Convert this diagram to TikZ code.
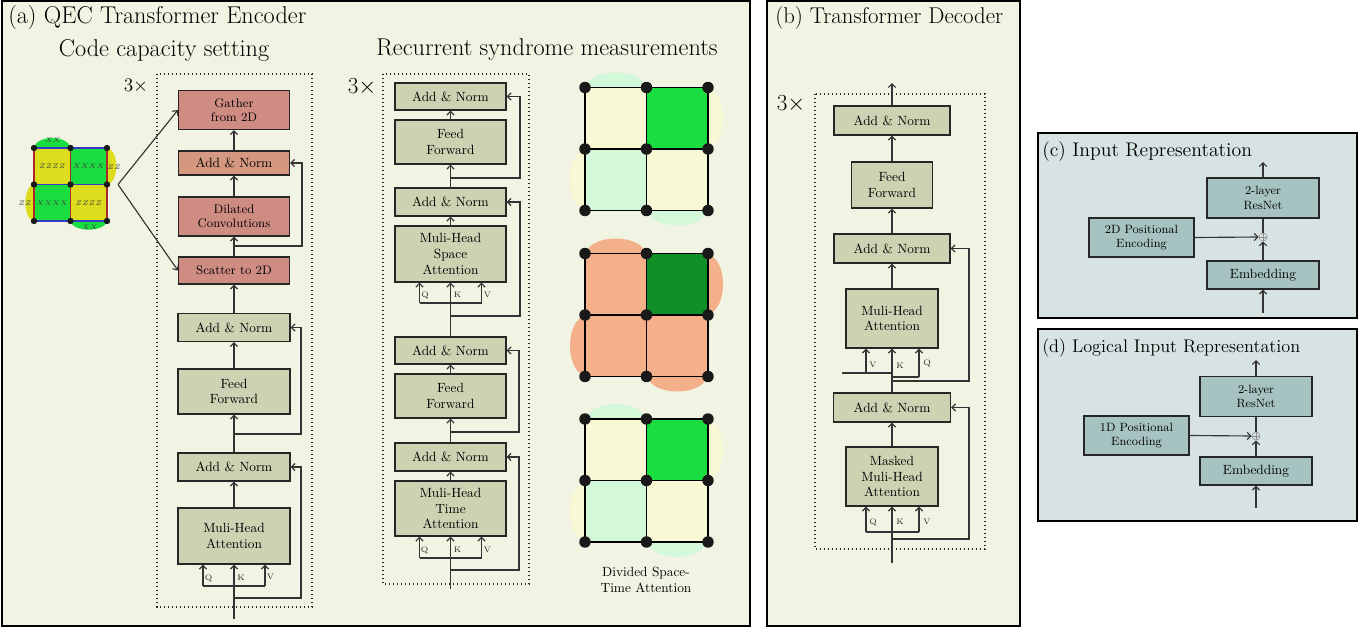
\documentclass[tikz,border=0pt]{standalone}
\usetikzlibrary{arrows.meta,calc}
\definecolor{bgA}{RGB}{241,244,227}
\definecolor{boxG}{RGB}{206,209,178}
\definecolor{boxR}{RGB}{207,140,131}
\definecolor{boxRn}{RGB}{212,152,128}
\definecolor{bgC}{RGB}{214,227,226}
\definecolor{boxT}{RGB}{166,195,193}
\definecolor{latY}{RGB}{221,221,30}
\definecolor{latG}{RGB}{26,222,64}
\definecolor{cellY}{RGB}{248,248,212}
\definecolor{cellM}{RGB}{212,248,218}
\definecolor{cellO}{RGB}{243,176,138}
\definecolor{cellDG}{RGB}{16,142,40}
\definecolor{edgeB}{RGB}{55,55,200}
\definecolor{edgeR}{RGB}{170,40,40}

% one 2x2 plaquette grid: #1 top y, #2-#5 cell fills (TL,TR,BL,BR),
% #6 blob colour above/below, #7 blob colour left/right
\newcommand\plaqgrid[7]{%
  \begin{scope}[shift={(585,#1)}]
    \fill[#6] (30.75,0) ellipse [x radius=21.75pt, y radius=11.25pt];
    \fill[#7] (123,30.75) ellipse [x radius=11.25pt, y radius=21.75pt];
    \fill[#7] (0,92.25) ellipse [x radius=11.25pt, y radius=21.75pt];
    \fill[#6] (92.25,123) ellipse [x radius=21.75pt, y radius=11.25pt];
    \fill[#2] (0,0) rectangle (61.5,61.5);
    \fill[#3] (61.5,0) rectangle (123,61.5);
    \fill[#4] (0,61.5) rectangle (61.5,123);
    \fill[#5] (61.5,61.5) rectangle (123,123);
    \foreach \k in {0,61.5,123}{
      \draw[line width=1.2pt] (0,\k) -- (123,\k);
      \draw[line width=1.2pt] (\k,0) -- (\k,123);}
    \foreach \i in {0,61.5,123}{\foreach \j in {0,61.5,123}{
      \fill[black!90] (\i,\j) circle [radius=4.3pt];}}
  \end{scope}}

\begin{document}
\begin{tikzpicture}[x=0.75pt,y=-0.75pt,
  >={Straight Barb[length=2.8pt,width=5.4pt]},
  wh/.style 2 args={minimum width=#1*0.75pt, minimum height=#2*0.75pt},
  blk/.style={draw=black!85, line width=0.85pt, align=center, inner sep=1pt},
  gbox/.style={blk, fill=boxG, font=\fontsize{10}{11.8}\selectfont},
  rbox/.style={blk, fill=boxR, font=\fontsize{9.3}{10.9}\selectfont},
  rnorm/.style={blk, fill=boxRn, font=\fontsize{10}{11.8}\selectfont},
  tbox/.style={blk, fill=boxT, font=\fontsize{9}{10.6}\selectfont},
  ln/.style={draw=black!80, line width=0.85pt},
  arr/.style={ln, ->},
  lab/.style={font=\fontsize{6}{7}\selectfont, inner sep=0pt, text=black!85},
  ttl/.style={font=\fontsize{18.2}{21}\selectfont, inner sep=0pt},
  rep/.style={inner sep=0pt},
  dots/.style={draw=black!85, line width=1pt, dash pattern=on 1pt off 2pt},
  pan/.style={draw=black, line width=0.8pt},
  plus/.style={draw=black!45, circle, inner sep=0pt, minimum size=6pt, line width=0.4pt,
    path picture={\draw[black!45, line width=0.4pt]
      (path picture bounding box.north) -- (path picture bounding box.south)
      (path picture bounding box.west) -- (path picture bounding box.east);}}
]
\useasboundingbox (0,0) rectangle (1372,627);

% ---------- panels ----------
\draw[pan, fill=bgA] (2,1) rectangle (750,626);
\draw[pan, fill=bgA] (767,1) rectangle (1020,626);
\draw[pan, fill=bgC] (1038,133) rectangle (1357,318);
\draw[pan, fill=bgC] (1038,329) rectangle (1357,521);

\node[ttl, anchor=base west] (ta) at (8,24) {(a) QEC Transformer Encoder};
\node[ttl, anchor=base west, font=\fontsize{17.1}{20}\selectfont] (tb) at (775,24) {(b) Transformer Decoder};
\node[rep, anchor=base west, font=\fontsize{14.8}{17}\selectfont] (tc) at (1042,157) {(c) Input Representation};
\node[rep, anchor=base west, font=\fontsize{13.7}{16}\selectfont] (td) at (1042,353) {(d) Logical Input Representation};
\node[ttl] (tcc) at (164,50) {Code capacity setting};
\node[ttl] (trs) at (547,50) {Recurrent syndrome measurements};

% ---------- surface-code lattice ----------
\fill[latG] (52.25,148) ellipse [x radius=13.5pt, y radius=7.5pt];
\fill[latY] (107,166.25) ellipse [x radius=7pt, y radius=13.5pt];
\fill[latY] (34,202.75) ellipse [x radius=6.5pt, y radius=13.5pt];
\fill[latG] (88.75,221) ellipse [x radius=13.5pt, y radius=6.5pt];
\fill[latY] (34,148) rectangle (70.5,184.5);
\fill[latG] (70.5,148) rectangle (107,184.5);
\fill[latG] (34,184.5) rectangle (70.5,221);
\fill[latY] (70.5,184.5) rectangle (107,221);
\foreach \yy in {148,184.5,221} \draw[edgeB, line width=1.1pt] (34,\yy) -- (107,\yy);
\foreach \xx in {34,70.5,107} \draw[edgeR, line width=1.1pt] (\xx,148) -- (\xx,221);
\foreach \xx in {34,70.5,107}{\foreach \yy in {148,184.5,221}{
  \fill[black!90] (\xx,\yy) circle [radius=2.4pt];}}
\begin{scope}[every node/.style={font=\fontsize{5.5}{6}\selectfont, inner sep=0pt, text=black!75}]
  \node (z1) at (52.25,166.25) {$ZZZZ$};
  \node (x1) at (88.75,166.25) {$XXXX$};
  \node (x2) at (52.25,202.75) {$XXXX$};
  \node (z2) at (88.75,202.75) {$ZZZZ$};
  \node (bx1) at (53,140) {$XX$};
  \node (bz1) at (114,167) {$ZZ$};
  \node (bz2) at (25,203) {$ZZ$};
  \node (bx2) at (90,227) {$XX$};
\end{scope}
\coordinate (lat) at (118,184.5);

% ---------- code capacity encoder ----------
\node[rep, font=\fontsize{15}{17}\selectfont] (n3a) at (136,86) {$3\times$};
\draw[dots] (157,74) rectangle (312,607);
\node[rbox, wh={111}{39}] (gat) at (234,110) {Gather\\from 2D};
\node[rnorm, wh={111}{24}] (ran) at (234,163) {Add \& Norm};
\node[rbox, wh={111}{39}] (dil) at (234,216.5) {Dilated\\Convolutions};
\node[rbox, wh={111}{27}] (sca) at (234,270.5) {Scatter to 2D};
\node[gbox, wh={112}{28}] (an2) at (234,327.5) {Add \& Norm};
\node[gbox, wh={112}{45}] (ff) at (234,391.5) {Feed\\Forward};
\node[gbox, wh={112}{28}] (an1) at (234,467) {Add \& Norm};
\node[gbox, wh={112}{56}] (mha) at (234,536) {Muli-Head\\Attention};

\draw[arr] (lat) -- (gat.west);
\draw[arr] (lat) -- (sca.west);

\draw[arr] (mha.north) -- (an1.south);
\draw[arr] (an1.north) -- (ff.south);
\draw[arr] (ff.north) -- (an2.south);
\draw[arr] (an2.north) -- (sca.south);
\draw[arr] (sca.north) -- (dil.south);
\draw[arr] (dil.north) -- (ran.south);
\draw[arr] (ran.north) -- (gat.south);
\draw[arr] (234,246) -| (302,163) -- (ran.east);
\draw[arr] (234,434) -| (301,327.5) -- (an2.east);
\draw[arr] (234,598) -| (301,467) -- (an1.east);

\coordinate (ein) at (234,619);
\draw[ln] (ein) -- (234,586);
\draw[ln] (203,586) -- (265,586);
\draw[arr] (203,586) -- ($(mha.south)+(-31,0)$);
\draw[arr] (234,586) -- (mha.south);
\draw[arr] (265,586) -- ($(mha.south)+(31,0)$);
\node[lab] (eq) at (208.5,578) {Q};
\node[lab] (ek) at (241,578) {K};
\node[lab] (ev) at (270.5,577) {V};

% ---------- recurrent encoder ----------
\node[rep, font=\fontsize{17}{19}\selectfont] (n3b) at (362,87) {$3\times$};
\draw[dots] (383,74) rectangle (529,584);
\node[gbox, wh={111}{27}] (sa2) at (450.5,96.5) {Add \& Norm};
\node[gbox, wh={111}{44}] (sff) at (450.5,142) {Feed\\Forward};
\node[gbox, wh={111}{28}] (sa1) at (450.5,202) {Add \& Norm};
\node[gbox, wh={111}{56}] (sat) at (450.5,254) {Muli-Head\\Space\\Attention};
\node[gbox, wh={111}{27}] (ta2) at (450.5,350.5) {Add \& Norm};
\node[gbox, wh={111}{44}] (tff) at (450.5,396) {Feed\\Forward};
\node[gbox, wh={111}{28}] (ta1) at (450.5,457) {Add \& Norm};
\node[gbox, wh={111}{55}] (tat) at (450.5,508.5) {Muli-Head\\Time\\Attention};

\draw[arr] (sat.north) -- (sa1.south);
\draw[arr] (sa1.north) -- (sff.south);
\draw[arr] (sff.north) -- (sa2.south);
\draw[arr] (450.5,178) -| (520,96.5) -- (sa2.east);
\draw[arr] (450.5,316) -| (520,202) -- (sa1.east);
\draw[ln] (ta2.north) -- (450.5,303);
\draw[ln] (419.5,303) -- (481.5,303);
\draw[arr] (419.5,303) -- ($(sat.south)+(-31,0)$);
\draw[arr] (450.5,303) -- (sat.south);
\draw[arr] (481.5,303) -- ($(sat.south)+(31,0)$);
\node[lab] (sq) at (425,295) {Q};
\node[lab] (sk) at (457.5,295) {K};
\node[lab] (sv) at (487.5,295) {V};

\draw[arr] (tat.north) -- (ta1.south);
\draw[arr] (ta1.north) -- (tff.south);
\draw[arr] (tff.north) -- (ta2.south);
\draw[arr] (450.5,432) -| (519,350.5) -- (ta2.east);
\draw[arr] (450.5,570) -| (519,457) -- (ta1.east);
\coordinate (rin) at (450.5,589);
\draw[ln] (rin) -- (450.5,558);
\draw[ln] (419.5,558) -- (481.5,558);
\draw[arr] (419.5,558) -- ($(tat.south)+(-31,0)$);
\draw[arr] (450.5,558) -- (tat.south);
\draw[arr] (481.5,558) -- ($(tat.south)+(31,0)$);
\node[lab] (tq) at (424.5,550) {Q};
\node[lab] (tk) at (457.5,550) {K};
\node[lab] (tv) at (487.5,550) {V};

% ---------- divided space-time attention ----------
\plaqgrid{87.5}{cellY}{latG}{cellM}{cellY}{cellM}{cellY}
\plaqgrid{253.5}{cellO}{cellDG}{cellO}{cellO}{cellO}{cellO}
\plaqgrid{419}{cellY}{latG}{cellM}{cellY}{cellM}{cellY}
\node[align=center, font=\fontsize{10}{11.5}\selectfont] (dsta) at (646,580) {Divided Space-\\Time Attention};

% ---------- decoder ----------
\node[rep, font=\fontsize{16}{18}\selectfont] (n3c) at (791,104) {$3\times$};
\draw[dots] (815,94) rectangle (985,549);
\node[gbox, wh={116}{29}] (da2) at (892,120.5) {Add \& Norm};
\node[gbox, wh={81}{46}] (dff) at (892,185) {Feed\\Forward};
\node[gbox, wh={116}{29}] (da1) at (892,248.5) {Add \& Norm};
\node[gbox, wh={92}{59}] (dmh) at (892,318.5) {Muli-Head\\Attention};
\node[gbox, wh={117}{29}] (da0) at (892,407.5) {Add \& Norm};
\node[gbox, wh={92}{59}] (dmm) at (892,476.5) {Masked\\Muli-Head\\Attention};

\coordinate (dout) at (892,83);
\draw[arr] (da2.north) -- (dout);
\draw[arr] (dff.north) -- (da2.south);
\draw[arr] (da1.north) -- (dff.south);
\draw[arr] (dmh.north) -- (da1.south);
\draw[arr] (dmm.north) -- (da0.south);

\coordinate (mem) at (842,373);
\draw[ln] (mem) -- (892,373);
\draw[arr] (866,373) -- ($(dmh.south)+(-26,0)$);
\draw[arr] (da0.north) -- (dmh.south);
\draw[ln] (892,377) -- (919,377);
\draw[arr] (919,377) -- ($(dmh.south)+(27,0)$);
\draw[arr] (892,381) -| (969,248.5) -- (da1.east);
\node[lab] (dv1) at (873,365) {V};
\node[lab] (dk1) at (900,366) {K};
\node[lab] (dq1) at (927,363) {Q};

\coordinate (din) at (892,563);
\draw[ln] (din) -- (892,532);
\draw[ln] (866,532) -- (919,532);
\draw[arr] (866,532) -- ($(dmm.south)+(-26,0)$);
\draw[arr] (892,532) -- (dmm.south);
\draw[arr] (919,532) -- ($(dmm.south)+(27,0)$);
\draw[arr] (892,539) -| (969,407.5) -- (da0.east);
\node[lab] (dq2) at (873,522) {Q};
\node[lab] (dk2) at (900,522) {K};
\node[lab] (dv2) at (927,522) {V};

% ---------- input representation ----------
\node[tbox, wh={112}{40}] (crn) at (1263,198) {2-layer\\ResNet};
\node[tbox, wh={105}{39}] (cpe) at (1141.5,237.5) {2D Positional\\Encoding};
\node[tbox, wh={112}{28}, font=\fontsize{10}{12}\selectfont] (cem) at (1263,275) {Embedding};
\node[plus] (cp) at (1263,237) {};
\coordinate (cout) at (1263,162);
\coordinate (cin) at (1263,313);
\draw[arr] (cpe.east) -- (cp.west);
\draw[arr] (cem.north) -- (cp.south);
\draw[ln] (cp.north) -- (crn.south);
\draw[arr] (crn.north) -- (cout);
\draw[arr] (cin) -- (cem.south);

% ---------- logical input representation ----------
\node[tbox, wh={112}{40}] (lrn) at (1256,396.5) {2-layer\\ResNet};
\node[tbox, wh={105}{39}] (lpe) at (1136.5,435.5) {1D Positional\\Encoding};
\node[tbox, wh={112}{28}, font=\fontsize{10}{12}\selectfont] (lem) at (1256,471) {Embedding};
\node[plus] (lp) at (1256,436) {};
\coordinate (lout) at (1256,360);
\coordinate (lin) at (1256,508);
\draw[arr] (lpe.east) -- (lp.west);
\draw[arr] (lem.north) -- (lp.south);
\draw[ln] (lp.north) -- (lrn.south);
\draw[arr] (lrn.north) -- (lout);
\draw[arr] (lin) -- (lem.south);
\end{tikzpicture}
\end{document}
